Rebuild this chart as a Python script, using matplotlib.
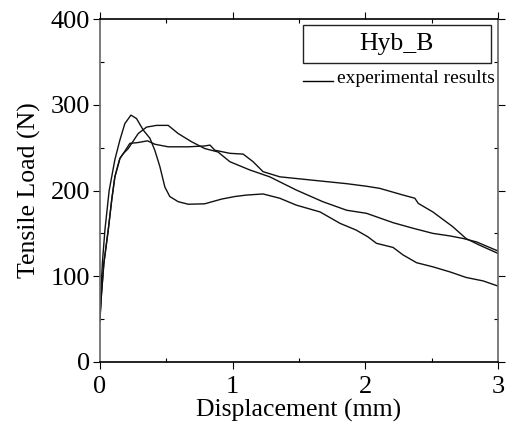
import matplotlib
matplotlib.use("Agg")
import matplotlib.pyplot as plt
from matplotlib.patches import Rectangle
from matplotlib.lines import Line2D
from matplotlib.ticker import MultipleLocator

plt.rcParams['font.family'] = ['Liberation Serif', 'DejaVu Serif']

# Specimen A: sharp peak then drop
a_x = [0.0, 0.01, 0.02, 0.038, 0.07, 0.113, 0.151, 0.188, 0.234, 0.276, 0.327, 0.377, 0.414, 0.452, 0.49,
       0.527, 0.59, 0.666, 0.79, 0.917, 1.017, 1.105, 1.23, 1.356, 1.48, 1.66, 1.81, 1.93, 2.02, 2.085,
       2.21, 2.286, 2.387, 2.51, 2.64, 2.76, 2.89, 3.0]
a_y = [48, 90, 118, 154, 200, 236, 259, 278, 288, 284, 270.5, 261, 247, 228, 204,
       193, 187, 184, 184.5, 190, 193, 194.7, 196, 191, 183, 175, 161.7, 154, 146, 138.4,
       133.6, 124.8, 115.8, 111, 105, 98.6, 94.5, 88.6]

# Specimen B: plateau then long shelf
b_x = [0.0, 0.01, 0.03, 0.063, 0.09, 0.113, 0.151, 0.176, 0.226, 0.289, 0.359, 0.414, 0.515, 0.666,
       0.79, 0.83, 0.867, 0.98, 1.08, 1.155, 1.23, 1.356, 1.607, 1.86, 2.01, 2.11, 2.286, 2.374,
       2.4, 2.51, 2.66, 2.76, 2.86, 3.0]
b_y = [48, 75, 115, 154, 190, 216, 237.5, 243, 255, 256, 258, 254, 251, 251,
       252, 253, 247, 243.4, 242.5, 233.6, 222, 216, 212, 208, 205, 202.5, 194.7, 191,
       185, 175, 157.8, 144, 136.4, 126.7]

# Specimen C: broad peak then steady decline
c_x = [0.0, 0.01, 0.03, 0.063, 0.09, 0.113, 0.151, 0.176, 0.214, 0.289, 0.352, 0.427, 0.515, 0.59,
       0.69, 0.79, 0.89, 0.98, 1.13, 1.28, 1.48, 1.68, 1.86, 2.01, 2.21, 2.36, 2.51, 2.64, 2.74,
       2.84, 3.0]
c_y = [48, 75, 115, 154, 190, 216, 237.5, 243, 249, 266.5, 274, 276, 276, 266.5,
       257, 249, 245, 233.6, 224, 216, 200.6, 187, 177, 173.4, 162.5, 156, 150, 147, 144,
       140, 129.5]

fig = plt.figure(figsize=(5.07, 4.34), dpi=100)
ax = fig.add_axes([0.197, 0.166, 0.785, 0.790])

for xs, ys in [(a_x, a_y), (b_x, b_y), (c_x, c_y)]:
    ax.plot(xs, ys, color='#111111', lw=1.0)

ax.set_xlim(0, 3)
ax.set_ylim(0, 400)
ax.xaxis.set_major_locator(MultipleLocator(1))
ax.xaxis.set_minor_locator(MultipleLocator(0.5))
ax.yaxis.set_major_locator(MultipleLocator(100))
ax.yaxis.set_minor_locator(MultipleLocator(50))
ax.tick_params(which='major', direction='out', length=5, labelsize=19, width=0.8, pad=2)
ax.tick_params(axis='x', which='major', pad=5)
ax.tick_params(which='minor', direction='in', length=3, width=0.8)
ax.tick_params(which='both', top=True, right=True)

for side in ['left', 'right']:
    ax.spines[side].set_color('#666666')
    ax.spines[side].set_linewidth(1.2)
for side in ['top', 'bottom']:
    ax.spines[side].set_color('black')
    ax.spines[side].set_linewidth(1.2)

ax.set_xlabel('Displacement (mm)', fontsize=18.5, labelpad=1)
ax.set_ylabel('Tensile Load (N)', fontsize=18.5, labelpad=7)

ax.add_patch(Rectangle((0.51, 0.872), 0.472, 0.110, transform=ax.transAxes,
                       fill=False, edgecolor='#222222', lw=1.0))
ax.text(0.746, 0.927, 'Hyb_B', transform=ax.transAxes, ha='center', va='center', fontsize=18.5)
ax.add_line(Line2D([0.51, 0.585], [0.818, 0.818], transform=ax.transAxes, color='black', lw=1.0))
ax.text(0.595, 0.826, 'experimental results', transform=ax.transAxes, ha='left', va='center', fontsize=14)

fig.savefig('out.png', dpi=100)
